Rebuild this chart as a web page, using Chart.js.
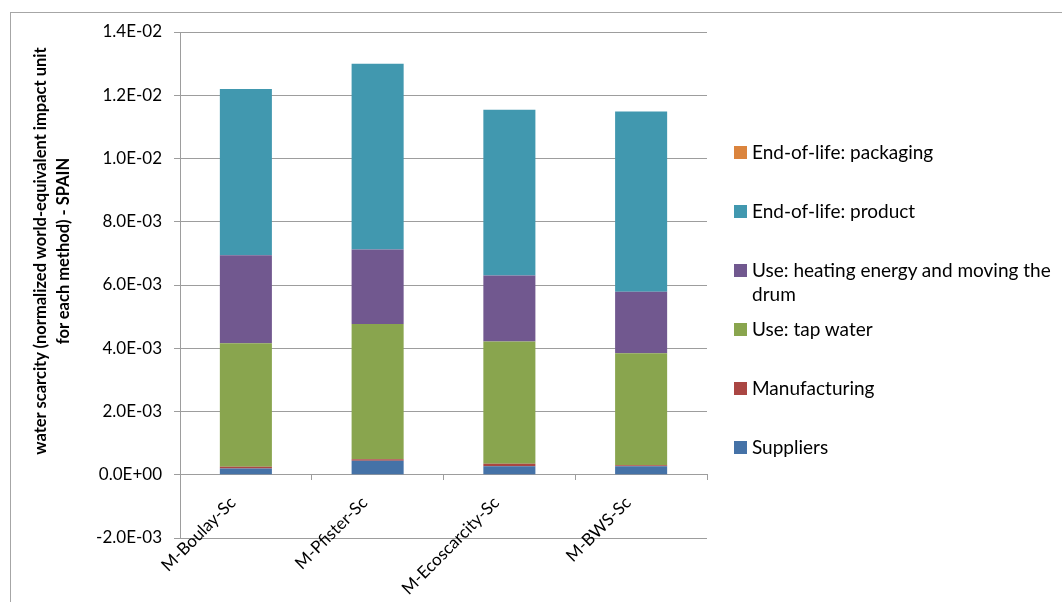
<!DOCTYPE html>
<html>
<head>
<meta charset="utf-8">
<script src="https://cdn.jsdelivr.net/npm/chart.js@4"></script>
<style>
  html, body { margin: 0; padding: 0; background: #fff; overflow: hidden; }
  #wrap { position: relative; width: 1062px; height: 602px; overflow: hidden; font-family: Lato, "Open Sans", sans-serif; }
  #frame { position: absolute; left: 10px; top: 12px; width: 1200px; height: 800px; border: 1px solid #a6a6a6; box-sizing: border-box; }
  canvas { position: absolute; left: 0; top: 0; }
  #ytitle {
    position: absolute; width: 500px; left: calc(51.5px - 250px); top: calc(251px - 23px);
    height: 46px; line-height: 23px; font-size: 16.5px; font-weight: bold; text-align: center; color: #000;
    transform: rotate(-90deg); transform-origin: 50% 50%; white-space: nowrap;
  }
  #legend { position: absolute; left: 734px; top: 140px; width: 330px; }
  .item { position: relative; height: 59px; font-size: 19px; line-height: 24px; color: #000; }
  .item .sw { position: absolute; left: 0; top: 6px; width: 13px; height: 13px; }
  .item .tx { position: absolute; left: 18px; top: 0; width: 312px; }
</style>
</head>
<body>
<div id="wrap">
  <div id="frame"></div>
  <canvas id="c" width="1062" height="602"></canvas>
  <div id="ytitle">water scarcity (normalized world-equivalent impact unit<br>for each method) - SPAIN</div>
  <div id="legend"></div>
</div>
<script>
// Impact assessment methods (categories)
const methods = ['M-Boulay-Sc', 'M-Pfister-Sc', 'M-Ecoscarcity-Sc', 'M-BWS-Sc'];

// Life-cycle stage contributions per method
const suppliers     = [0.00020, 0.00044, 0.00027, 0.00027];
const manufacturing = [0.00005, 0.00005, 0.00008, 0.00003];
const tapWater      = [0.00391, 0.00428, 0.00386, 0.00354];
const heating       = [0.00278, 0.00235, 0.00209, 0.00195];
const eolProduct    = [0.00526, 0.00588, 0.00524, 0.00570];
const eolPackaging  = [0, 0, 0, 0];

const seriesNames = [
  'Suppliers',
  'Manufacturing',
  'Use: tap water',
  'Use: heating energy and moving the drum',
  'End-of-life: product',
  'End-of-life: packaging'
];
const seriesColors = ['#4572A7', '#AA4643', '#89A54E', '#71588F', '#4198AF', '#DB843D'];

// Value axis range and step
const yMin = -0.002, yMax = 0.014, yStep = 0.002;

function sci(v) {
  // 1.4E-02 style labels
  const [m, e] = v.toExponential(1).split('e');
  const n = parseInt(e, 10);
  const sign = n < 0 ? '-' : '+';
  return m + 'E' + sign + String(Math.abs(n)).padStart(2, '0');
}

const values = [suppliers, manufacturing, tapWater, heating, eolProduct, eolPackaging];
const datasets = values.map((d, i) => ({
  label: seriesNames[i],
  data: d,
  backgroundColor: seriesColors[i],
  borderWidth: 0,
  categoryPercentage: 1,
  barPercentage: 0.395
}));

const grey = '#9d9d9d';
const tickFont = { family: 'Lato', size: 17 };

new Chart(document.getElementById('c'), {
  type: 'bar',
  data: { labels: methods, datasets },
  options: {
    responsive: false,
    animation: false,
    layout: { padding: { left: 0, top: 32, right: 355, bottom: 64 } },
    plugins: { legend: { display: false }, tooltip: { enabled: false } },
    scales: {
      x: {
        stacked: true,
        position: { y: 0 },
        grid: { display: true, drawOnChartArea: false, drawTicks: true, tickLength: 5, color: grey, offset: true },
        border: { display: true, color: grey },
        ticks: { color: '#000', font: tickFont, maxRotation: 45, minRotation: 45, autoSkip: false, padding: 13, labelOffset: -13 }
      },
      y: {
        stacked: true,
        min: yMin, max: yMax,
        afterFit: (s) => { s.width = 180; },
        grid: { color: grey, tickLength: 6, drawTicks: true },
        border: { display: true, color: grey },
        ticks: { stepSize: yStep, color: '#000', font: tickFont, padding: 12, callback: (v) => sci(v) }
      }
    }
  }
});

// Legend, top to bottom in reverse stacking order
const legend = document.getElementById('legend');
for (let i = seriesNames.length - 1; i >= 0; i--) {
  const it = document.createElement('div');
  it.className = 'item';
  it.innerHTML = '<span class="sw" style="background:' + seriesColors[i] + '"></span><span class="tx"></span>';
  it.querySelector('.tx').textContent = seriesNames[i];
  legend.appendChild(it);
}
</script>
</body>
</html>
